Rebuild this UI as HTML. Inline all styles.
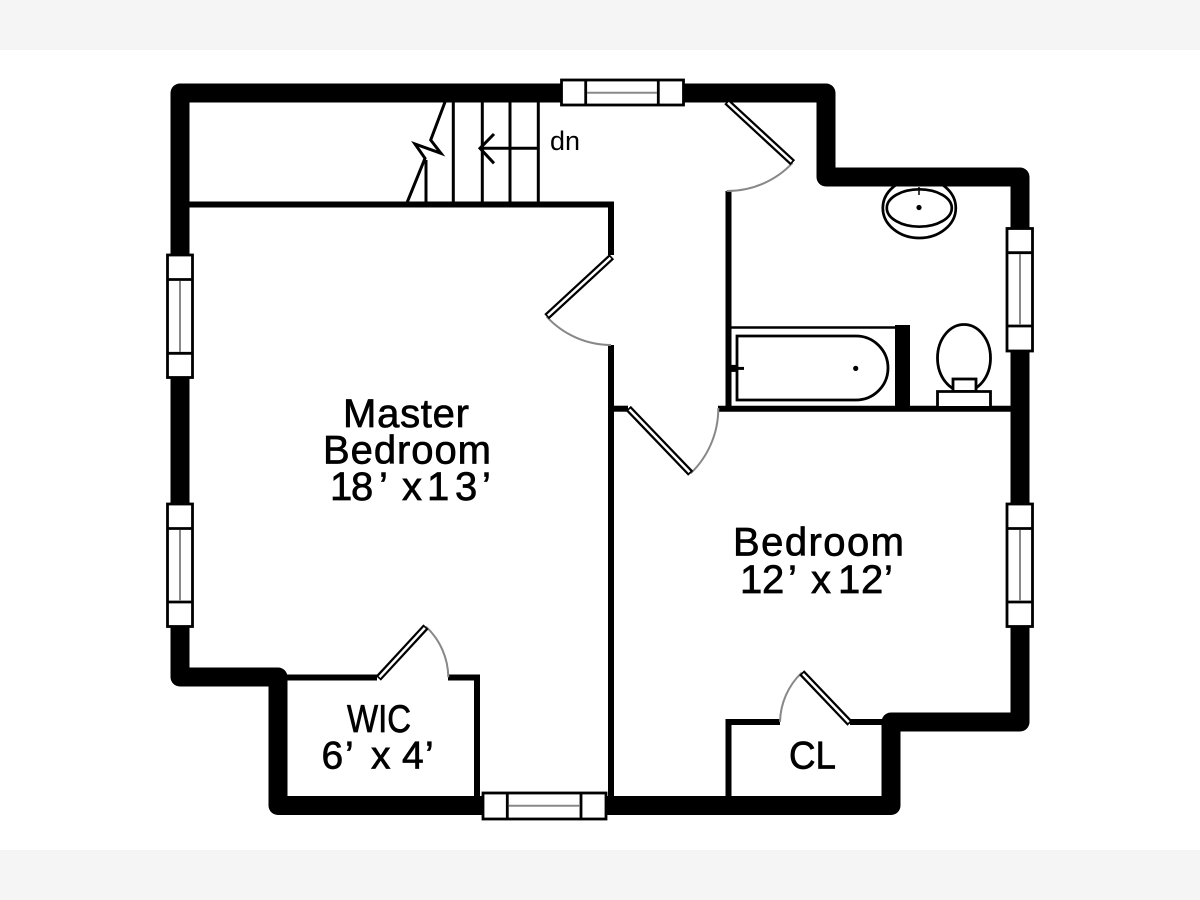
<!DOCTYPE html>
<html><head><meta charset="utf-8"><style>
html,body{margin:0;padding:0;background:#fff;width:1200px;height:900px;overflow:hidden}
svg{display:block}
text{font-family:"Liberation Sans",sans-serif;fill:#000;stroke:#000;stroke-width:.7px;font-size:40px}
</style></head><body>
<svg width="1200" height="900" viewBox="0 0 1200 900" xmlns="http://www.w3.org/2000/svg">
<rect width="1200" height="900" fill="#fff"/>
<rect width="1200" height="50" fill="#f5f5f5"/>
<rect y="850" width="1200" height="50" fill="#f5f5f5"/>

<!-- sink -->
<g fill="none" stroke="#000" stroke-width="2.7">
<ellipse cx="919.3" cy="208" rx="36.5" ry="30"/>
<ellipse cx="919.3" cy="208" rx="32.5" ry="18.7"/>
<path d="M919 187V195" stroke-width="1.5"/>
</g>
<circle cx="919" cy="207.5" r="2.6"/>

<!-- outer wall -->
<path d="M180 93H826V177H1020V722H891V805.5H278V677H180Z" fill="none" stroke="#000" stroke-width="19" stroke-linejoin="round"/>

<!-- interior walls -->
<g fill="none" stroke="#000" stroke-width="6">
<path d="M189 204.5H611V255"/>
<path d="M611 345V797"/>
<path d="M728.5 191V406"/>
<path d="M612 408.7H628"/>
<path d="M718 408.7H1011"/>
<path d="M287 677.5H377"/>
<path d="M448 677.5H477V797"/>
<path d="M780 722H728.5V797"/>
<path d="M850 722H882"/>
</g>

<!-- stairs -->
<g fill="none" stroke="#000" stroke-width="3">
<path d="M453.3 102V204M482.3 102V204M510 102V204M538.3 102V204M426 160V204"/>
<path d="M445 102L430.7 140L441 153.3L415 144L425 158.3L407.3 202"/>
<path d="M538 148.3H480M494 134L480 148.3L494 163.3"/>
</g>
<text x="550" y="150" style="font-size:27px;stroke-width:0" textLength="30" lengthAdjust="spacingAndGlyphs">dn</text>

<!-- door arcs -->
<g fill="none" stroke="#888" stroke-width="2">
<path d="M546.7 316.7A88 88 0 0 0 611 345"/>
<path d="M792.7 162.7A89 89 0 0 1 726.7 191"/>
<path d="M690.7 473.3A90 90 0 0 0 718.3 408"/>
<path d="M426 626.7A70 70 0 0 1 448.3 677.3"/>
<path d="M801.7 672.7A70 70 0 0 0 780 722"/>
</g>

<!-- door leaves -->
<g fill="none" stroke="#000" stroke-width="7">
<path d="M611.7 256.7L546.7 316.7"/>
<path d="M726.7 101.7L792.7 162.7"/>
<path d="M628.3 408.3L690.7 473.3"/>
<path d="M378.3 678.3L426 626.7"/>
<path d="M850 723.3L801.7 672.7"/>
</g>
<g fill="none" stroke="#fff" stroke-width="2.5">
<path d="M610.5 257.8L547.9 315.6"/>
<path d="M727.9 102.8L791.5 161.6"/>
<path d="M629.5 409.5L689.5 472.1"/>
<path d="M379.5 677.1L424.8 627.9"/>
<path d="M848.8 722.1L802.9 673.9"/>
</g>

<!-- tub -->
<path d="M895 325H910V406H895Z" fill="#000"/>
<path d="M731 327.5H896" stroke="#000" stroke-width="2.4"/>
<path d="M737 336H856A32 32 0 0 1 856 400H737Z" fill="none" stroke="#000" stroke-width="2.8"/>
<circle cx="855.7" cy="368.4" r="2.6"/>
<path d="M730 368.4H737" stroke="#000" stroke-width="7"/>
<path d="M736 368.4H744" stroke="#000" stroke-width="3"/>

<!-- toilet -->
<g stroke="#000" stroke-width="2.8" fill="#fff">
<ellipse cx="964" cy="358" rx="26.5" ry="33.5" fill="none"/>
<rect x="953" y="379" width="23" height="12.5"/>
<path d="M937.5 406V391.5H990.5V406" />
</g>

<!-- windows -->
<g fill="#fff" stroke="#000" stroke-width="2.8">
<rect x="561.5" y="80" width="122" height="25"/>
<rect x="483" y="793" width="123" height="26"/>
<rect x="167.5" y="255" width="25" height="122.5"/>
<rect x="167.5" y="504" width="25" height="122.5"/>
<rect x="1007" y="228.5" width="25.5" height="122.5"/>
<rect x="1007" y="504" width="25.5" height="122.5"/>
<path fill="none" d="M585.7 80V105M658.3 80V105M507.3 793V819M581 793V819"/>
<path fill="none" d="M167.5 279.5H192.5M167.5 353.3H192.5M167.5 528.5H192.5M167.5 602H192.5"/>
<path fill="none" d="M1007 252.7H1032.5M1007 326H1032.5M1007 528.5H1032.5M1007 602H1032.5"/>
</g>
<g fill="none" stroke="#888" stroke-width="2">
<path d="M587 92.7H657M508.5 805.7H580"/>
<path d="M180 281V352M180 530V601M1020 254V325M1020 530V601"/>
</g>

<!-- labels -->
<text x="343" y="427" textLength="126" lengthAdjust="spacing">Master</text>
<text x="323" y="463.5" textLength="168" lengthAdjust="spacing">Bedroom</text>
<text x="330 351 379 392 402 424 427 455 482" y="500">18’ x 13’</text>
<text x="733" y="555.5" textLength="171" lengthAdjust="spacing">Bedroom</text>
<text x="740 762 788 800 811 832 838 861 884" y="593">12’ x 12’</text>
<text x="347" y="732" style="font-size:39px" textLength="64" lengthAdjust="spacingAndGlyphs">WIC</text>
<text x="321.5 345 358 371 390 402 425" y="768.5" style="font-size:39px">6’ x 4’</text>
<text x="789" y="768.5" style="font-size:39px" textLength="47" lengthAdjust="spacingAndGlyphs">CL</text>
</svg>
</body></html>
